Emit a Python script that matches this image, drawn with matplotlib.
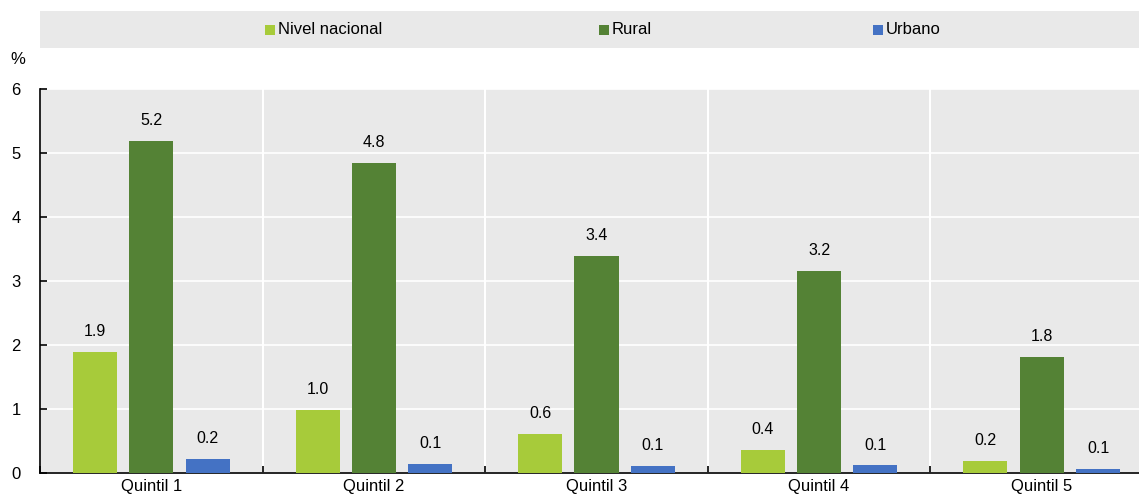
import matplotlib
matplotlib.use("Agg")
import matplotlib.pyplot as plt
from matplotlib.patches import Rectangle
import numpy as np

plt.rcParams['font.family'] = ['Liberation Sans Narrow', 'Liberation Sans', 'DejaVu Sans']

categories = ["Quintil 1", "Quintil 2", "Quintil 3", "Quintil 4", "Quintil 5"]
series_names = ["Nivel nacional", "Rural", "Urbano"]
nacional = [1.89, 0.98, 0.61, 0.36, 0.19]
rural = [5.19, 4.84, 3.39, 3.16, 1.81]
urbano = [0.22, 0.14, 0.11, 0.12, 0.06]
yticks = [0, 1, 2, 3, 4, 5, 6]

colors = ["#a7cb3a", "#548235", "#4472c4"]
series = [nacional, rural, urbano]

W, H = 1139, 496
group_px = 222.6
fig = plt.figure(figsize=(W / 100, H / 100), dpi=100)
ax = fig.add_axes([40 / W, 1 - 473 / H, 5 * group_px / W, (473 - 89) / H])
ax.set_facecolor("#e9e9e9")

x = np.arange(len(categories))
offsets = [-0.253, 0.0, 0.253]
width = 0.198
for vals, off, c in zip(series, offsets, colors):
    bars = ax.bar(x + off, vals, width, color=c, zorder=3)
    for b, v in zip(bars, vals):
        ax.text(b.get_x() + b.get_width() / 2, v + 0.2, f"{v:.1f}",
                ha="center", va="bottom", fontsize=11.5, color="#000000", zorder=4)

ax.set_xlim(-0.5, len(categories) - 0.5)
ax.set_ylim(0, 6)
ax.set_yticks(yticks)
ax.set_yticklabels([str(t) for t in yticks], fontsize=12)
ax.yaxis.grid(True, color="white", linewidth=1.2, zorder=1)
# group separators
ax.set_xticks(np.arange(len(categories) + 1) - 0.5, minor=True)
ax.set_xticks(x)
ax.set_xticklabels(categories, fontsize=12)
ax.tick_params(axis="x", which="major", length=0, pad=4)
ax.tick_params(axis="x", which="minor", direction="in", length=5, width=1.2, color="black")
ax.xaxis.grid(True, which="minor", color="white", linewidth=1.5, zorder=1)
ax.tick_params(axis="y", direction="in", length=5, width=1.2, pad=14)
for lab in ax.get_yticklabels():
    lab.set_horizontalalignment("right")
ax.spines["top"].set_visible(False)
ax.spines["right"].set_visible(False)
ax.spines["left"].set_linewidth(1.2)
ax.spines["bottom"].set_linewidth(1.2)
ax.set_axisbelow(True)

fig.text(10 / W, 1 - 60 / H, "%", fontsize=12, ha="left", va="center")

# legend band
fig.patches.append(Rectangle((40 / W, 1 - 48 / H), (1139 - 40) / W, 37 / H,
                             transform=fig.transFigure, facecolor="#e9e9e9",
                             edgecolor="none", zorder=0))
leg_x = [265, 599, 873]
for lx, name, c in zip(leg_x, series_names, colors):
    fig.patches.append(Rectangle((lx / W, 1 - 35 / H), 10 / W, 10 / H,
                                 transform=fig.transFigure, facecolor=c,
                                 edgecolor="none", zorder=1))
    fig.text((lx + 13) / W, 1 - 30 / H, name, fontsize=12, ha="left", va="center")

fig.savefig("out.png", dpi=100)
